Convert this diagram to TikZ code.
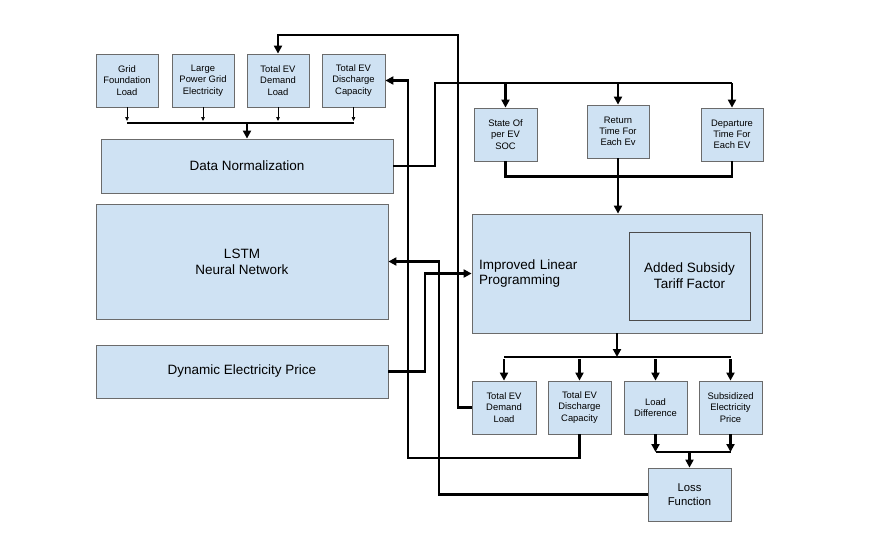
\documentclass[tikz,border=0pt]{standalone}
\usepackage{fontspec}
\setmainfont{Liberation Sans}
\usetikzlibrary{arrows.meta}
\definecolor{boxblue}{HTML}{CFE2F3}
\definecolor{boxline}{HTML}{6B6B6B}

\begin{document}
\begin{tikzpicture}[x=1pt,y=-1pt,
    box/.style={draw=boxline,fill=boxblue,line width=0.8pt,inner sep=0pt,align=center},
    small/.style={box,minimum width=62pt,minimum height=53pt,font=\fontsize{9.4}{11.3}\selectfont},
    big/.style={box,minimum width=292pt,font=\fontsize{13.5}{16}\selectfont},
    wire/.style={line width=2.2pt,-{Triangle[length=8pt,width=8pt]}},
    bus/.style={line width=2.2pt},
    feed/.style={line width=0.7pt,-{Triangle[length=4pt,width=3.5pt]}}]
      \useasboundingbox (0,0) rectangle (881,550);
      % inputs
      \node[small] (gfl) at (127,80.5) {Grid\\Foundation\\Load};
      \node[small] (lpg) at (203,80.5) {Large\\Power Grid\\Electricity};
      \node[small] (tdl) at (278,80.5) {Total EV\\Demand\\Load};
      \node[small,minimum width=63pt] (tdc) at (353.5,80.5) {Total EV\\Discharge\\Capacity};
      \node[big,minimum height=54pt] (dn) at (247,166) {Data Normalization};
      \node[big,minimum height=115pt] (lstm) at (242,261.5) {LSTM\\Neural Network};
      \node[big,minimum height=53pt] (price) at (242,371.5) {Dynamic Electricity Price};
      % ev data
      \node[small,minimum width=63pt] (soc) at (505.5,134.5) {State Of\\per EV\\SOC};
      \node[small] (ret) at (618,131.5) {Return\\Time For\\Each Ev};
      \node[small] (dep) at (732,134.5) {Departure\\Time For\\Each EV};
      \node[box,minimum width=290pt,minimum height=119pt,text width=276pt,align=left,
        font=\fontsize{13.5}{15.7}\selectfont] (ilp) at (617,273.5) {Improved Linear\\Programming};
      \node[box,draw=black!70,minimum width=121pt,minimum height=88pt,
        font=\fontsize{13.5}{15.7}\selectfont] (subs) at (689.5,276) {Added Subsidy\\Tariff Factor};
      % outputs
      \node[small,minimum width=64pt] (tedl) at (504,407.5) {Total EV\\Demand\\Load};
      \node[small,minimum width=63pt] (tedc) at (579.5,407.5) {Total EV\\Discharge\\Capacity};
      \node[small,minimum width=63pt] (ld) at (655.5,407.5) {Load\\Difference};
      \node[small,minimum width=63pt] (sep) at (730.5,407.5) {Subsidized\\Electricity\\Price};
      \node[small,minimum width=83pt,font=\fontsize{11.3}{14}\selectfont] (loss) at (689.5,494.5) {Loss\\Function};

      \coordinate (topbus) at (0,123);
      \coordinate (rbus) at (435,83);
      \coordinate (bbus) at (0,357);
      \coordinate (lbus) at (0,452);

      \foreach \n in {gfl,lpg,tdl,tdc}
        \draw[feed] (\n.south) -- (\n.south |- 0,121);
      \draw[bus] (gfl.south |- topbus) -- (tdc.south |- topbus);
      \draw[wire] (dn.north |- topbus) -- (dn.north);

      \draw[bus] (dn.east) -| (rbus) -- (dep.north |- rbus);
      \foreach \n in {soc,ret,dep}
        \draw[wire] (\n.north |- rbus) -- (\n.north);
      \draw[bus] (soc.south) -- ++(0,15) -| (dep.south);
      \draw[wire] (ret.south) -- (ret.south |- ilp.north);

      \draw[wire] (ilp.south) -- (ilp.south |- bbus);
      \draw[bus] (tedl.north |- bbus) -- (sep.north |- bbus);
      \foreach \n in {tedl,tedc,ld,sep}
        \draw[wire] (\n.north |- 0,359) -- (\n.north);

      \foreach \n in {ld,sep}
        \draw[wire] (\n.south) -- (\n.south |- lbus);
      \draw[bus] (ld.south |- lbus) -- (sep.south |- lbus);
      \draw[wire] (loss.north |- lbus) -- (loss.north);

      % feedback
      \draw[wire] (tedl.west) -| (458,35) -| (tdl.north);
      \draw[wire] (tedc.south) |- (408,458) |- (tdc.east);
      \draw[wire] (loss.west) -| (439,261.5) -- (lstm.east);
      \draw[wire] (price.east) -| (425,273.5) -- (ilp.west);
    \end{tikzpicture}
\end{document}
